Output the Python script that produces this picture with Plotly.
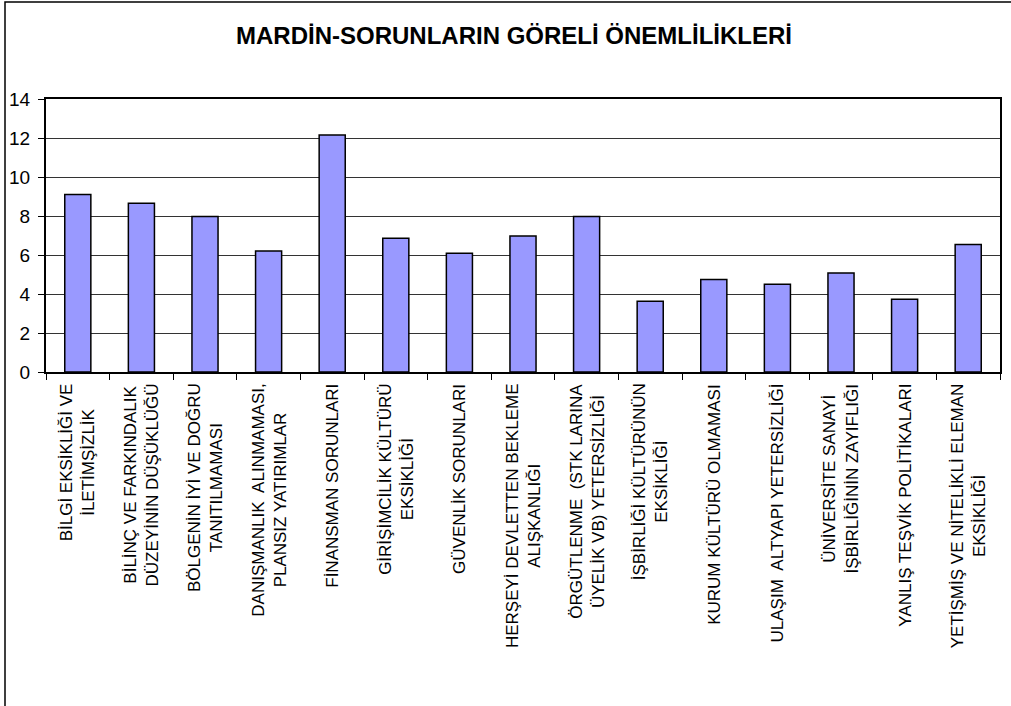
import plotly.graph_objects as go

categories = [
    "BİLGİ EKSİKLİĞİ VE<br>İLETİMŞİZLİK",
    "BİLİNÇ VE FARKINDALIK<br>DÜZEYİNİN DÜŞÜKLÜĞÜ",
    "BÖLGENİN İYİ VE DOĞRU<br>TANITILMAMASI",
    "DANIŞMANLIK  ALINMAMASI,<br>PLANSIZ YATIRIMLAR",
    "FİNANSMAN SORUNLARI",
    "GİRİŞİMCİLİK KÜLTÜRÜ<br>EKSİKLİĞİ",
    "GÜVENLİK SORUNLARI",
    "HERŞEYİ DEVLETTEN BEKLEME<br>ALIŞKANLIĞI",
    "ÖRGÜTLENME  (STK LARINA<br>ÜYELİK VB) YETERSİZLİĞİ",
    "İŞBİRLİĞİ KÜLTÜRÜNÜN<br>EKSİKLİĞİ",
    "KURUM KÜLTÜRÜ OLMAMASI",
    "ULAŞIM  ALTYAPI YETERSİZLİĞİ",
    "ÜNİVERSİTE SANAYİ<br>İŞBİRLİĞİNİN ZAYIFLIĞI",
    "YANLIŞ TEŞVİK POLİTİKALARI",
    "YETİŞMİŞ VE NİTELİKLİ ELEMAN<br>EKSİKLİĞİ",
]
values = [9.10, 8.66, 7.98, 6.20, 12.15, 6.86, 6.09, 6.98, 7.98, 3.63, 4.74, 4.50, 5.08, 3.73, 6.54]
y_ticks = [0, 2, 4, 6, 8, 10, 12, 14]
title_text = "MARDİN-SORUNLARIN GÖRELİ ÖNEMLİLİKLERİ"

FONT = "Liberation Sans, Arial, sans-serif"
W, H = 1011, 706
L, R, T, B = 46, 11, 99, 334

x_idx = list(range(len(categories)))

fig = go.Figure()
fig.add_trace(go.Bar(
    x=x_idx, y=values,
    marker=dict(color="#9999FF", line=dict(color="black", width=1.5)),
    hoverinfo="y",
))

for i, lab in enumerate(categories):
    fig.add_annotation(
        x=i, xref="x", y=-0.035, yref="paper",
        text=lab, textangle=-90, showarrow=False,
        xanchor="center", yanchor="top", align="center",
        font=dict(family=FONT, size=17, color="black"),
    )

fig.update_layout(
    width=W, height=H,
    margin=dict(l=L, r=R, t=T, b=B, autoexpand=False),
    paper_bgcolor="white", plot_bgcolor="white",
    showlegend=False,
    bargap=0.59,
    title=dict(text="<b>" + title_text + "</b>", x=514 / W, xanchor="center",
               y=1 - 36 / H, yanchor="middle", yref="container",
               font=dict(family=FONT, size=24, color="black")),
    xaxis=dict(
        type="linear", range=[-0.5, len(categories) - 0.5],
        tickvals=[i - 0.5 for i in range(len(categories) + 1)],
        showticklabels=False, ticks="outside", ticklen=6, tickcolor="black", tickwidth=1,
        showline=True, linecolor="black", linewidth=2, mirror=True,
        showgrid=False, zeroline=False, fixedrange=True,
    ),
    yaxis=dict(
        range=[0, 14], tickvals=y_ticks, ticktext=[str(v) for v in y_ticks],
        ticks="outside", ticklen=6, tickcolor="black", tickwidth=1,
        tickfont=dict(family=FONT, size=19, color="black"),
        ticklabelstandoff=4,
        showline=True, linecolor="black", linewidth=2, mirror=True,
        showgrid=True, gridcolor="#333333", gridwidth=1,
        zeroline=False, fixedrange=True,
    ),
)

# outer chart frame (left and top edges visible)
pw, ph = W - L - R, H - T - B
fig.add_shape(type="rect", xref="paper", yref="paper",
              x0=(5 - L) / pw, x1=(W + 10 - L) / pw,
              y0=(H - B - (H + 10)) / ph, y1=(H - B - 2) / ph,
              line=dict(color="black", width=1.5), fillcolor="rgba(0,0,0,0)", layer="below")

fig.write_html("out.html", config={"displayModeBar": False},
               post_script="document.body.style.margin='0';document.body.style.overflow='hidden';")
